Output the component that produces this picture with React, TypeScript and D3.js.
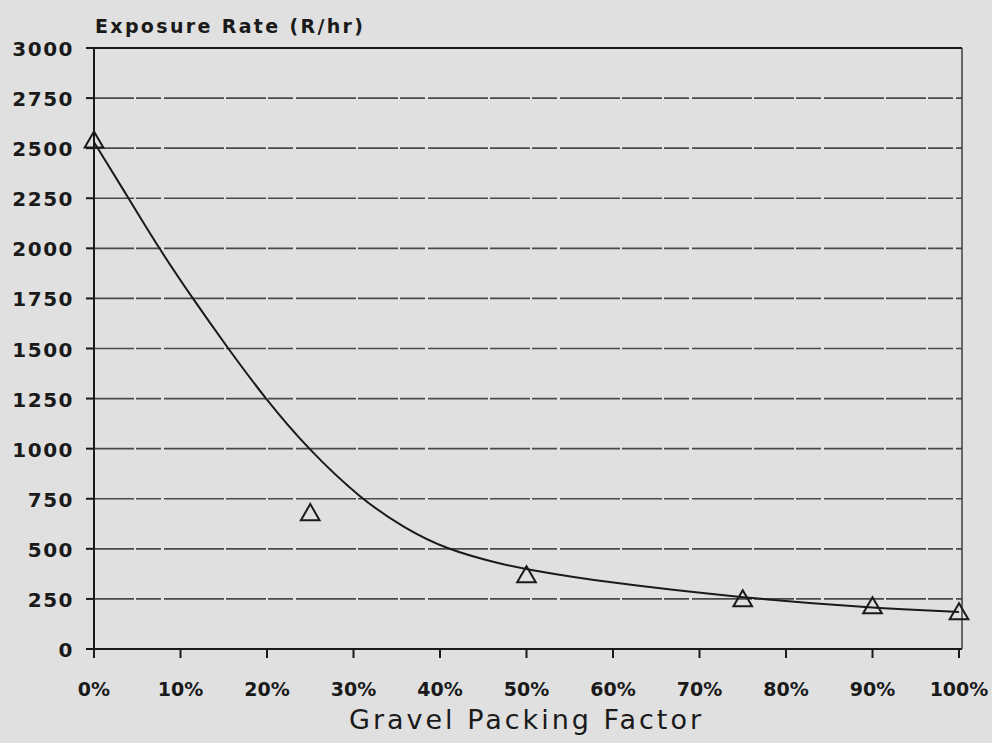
import React, { useRef, useEffect } from "react";
import * as d3 from "d3";

// measured data (triangles)
const pointPct = [0, 25, 50, 75, 90, 100];
const pointRate = [2530, 670, 360, 240, 205, 175];

// fitted curve
const curvePct = [0, 4, 7.5, 11.4, 15.5, 19.8, 24.7, 30.8, 36, 40.6, 46.9, 50, 58.5, 75, 90, 100];
const curveRate = [2530, 2250, 2000, 1750, 1500, 1250, 1000, 750, 600, 500, 425, 398, 336, 255, 205, 185];

const yTicks = [0, 250, 500, 750, 1000, 1250, 1500, 1750, 2000, 2250, 2500, 2750, 3000];
const xTicks = [0, 10, 20, 30, 40, 50, 60, 70, 80, 90, 100];

const title = "Exposure Rate (R/hr)";
const xTitle = "Gravel Packing Factor";

export default function App() {
    const width = 992;
    const height = 743;
    const ref = useRef<SVGSVGElement>(null);

    useEffect(() => {
        const svg = d3.select(ref.current);
        svg.selectAll("*").remove();

        const x = d3.scaleLinear().domain([0, 100]).range([94, 959]);
        const y = d3.scaleLinear().domain([0, 3000]).range([649, 48]);
        const font = "'DejaVu Sans', sans-serif";
        const ink = "#1a1a1a";

        svg.append("rect")
            .attr("width", width)
            .attr("height", height)
            .attr("fill", "#e0e0e0");

        // grid lines
        svg.append("g")
            .selectAll("line")
            .data(yTicks.filter(d => d > 0 && d < 3000))
            .enter().append("line")
            .attr("x1", x(0))
            .attr("x2", 962)
            .attr("y1", d => y(d))
            .attr("y2", d => y(d))
            .attr("stroke", "#4a4a4a")
            .attr("stroke-width", 1.6)
            .attr("stroke-dasharray", "40 2 25 3 60 2");

        // frame
        svg.append("line")
            .attr("x1", x(0)).attr("x2", 962)
            .attr("y1", y(3000)).attr("y2", y(3000))
            .attr("stroke", ink).attr("stroke-width", 2.2);
        svg.append("line")
            .attr("x1", x(0)).attr("x2", 962)
            .attr("y1", y(0)).attr("y2", y(0))
            .attr("stroke", ink).attr("stroke-width", 2.2);
        svg.append("line")
            .attr("x1", x(0)).attr("x2", x(0))
            .attr("y1", y(3000)).attr("y2", y(0))
            .attr("stroke", ink).attr("stroke-width", 2);
        svg.append("line")
            .attr("x1", 962).attr("x2", 962)
            .attr("y1", y(3000)).attr("y2", y(0))
            .attr("stroke", "#333").attr("stroke-width", 1.4);

        // y ticks + labels
        const yg = svg.append("g");
        yg.selectAll("line")
            .data(yTicks)
            .enter().append("line")
            .attr("x1", x(0) - 8).attr("x2", x(0))
            .attr("y1", d => y(d)).attr("y2", d => y(d))
            .attr("stroke", ink).attr("stroke-width", 2);
        yg.selectAll("text")
            .data(yTicks)
            .enter().append("text")
            .attr("x", 74)
            .attr("y", d => y(d) + 8)
            .attr("text-anchor", "end")
            .attr("font-family", font)
            .attr("font-weight", "bold")
            .attr("font-size", 20)
            .attr("letter-spacing", 1.5)
            .attr("fill", ink)
            .text(d => d);

        // x ticks + labels
        const xg = svg.append("g");
        xg.selectAll("line")
            .data(xTicks)
            .enter().append("line")
            .attr("x1", d => x(d)).attr("x2", d => x(d))
            .attr("y1", y(0)).attr("y2", y(0) + 9)
            .attr("stroke", ink).attr("stroke-width", 2);
        xg.selectAll("text")
            .data(xTicks)
            .enter().append("text")
            .attr("x", d => x(d))
            .attr("y", 696)
            .attr("text-anchor", "middle")
            .attr("font-family", font)
            .attr("font-weight", "bold")
            .attr("font-size", 19)
            .attr("fill", ink)
            .text(d => d + "%");

        // titles
        svg.append("text")
            .attr("x", 95)
            .attr("y", 33)
            .attr("font-family", font)
            .attr("font-weight", "bold")
            .attr("font-size", 19)
            .attr("textLength", 268)
            .attr("lengthAdjust", "spacing")
            .attr("fill", ink)
            .text(title);
        svg.append("text")
            .attr("x", 349)
            .attr("y", 729)
            .attr("font-family", font)
            .attr("font-size", 27)
            .attr("textLength", 352)
            .attr("lengthAdjust", "spacing")
            .attr("fill", ink)
            .text(xTitle);

        // fitted curve
        const curveData = curvePct.map((p, i) => [p, curveRate[i]] as [number, number]);
        const line = d3.line<[number, number]>()
            .x(d => x(d[0]))
            .y(d => y(d[1]))
            .curve(d3.curveBasis);
        svg.append("path")
            .datum(curveData)
            .attr("d", line)
            .attr("fill", "none")
            .attr("stroke", ink)
            .attr("stroke-width", 2);

        // triangles
        const tri = d3.symbol().type(d3.symbolTriangle).size(150);
        svg.append("g")
            .selectAll("path")
            .data(pointPct.map((p, i) => [p, pointRate[i]]))
            .enter().append("path")
            .attr("d", tri)
            .attr("transform", d => `translate(${x(d[0])},${y(d[1])})`)
            .attr("fill", "none")
            .attr("stroke", ink)
            .attr("stroke-width", 2);
    }, []);

    return (
        <svg ref={ref} width={width} height={height}
            style={{ position: "fixed", left: 0, top: 0, display: "block" }} />
    );
}
